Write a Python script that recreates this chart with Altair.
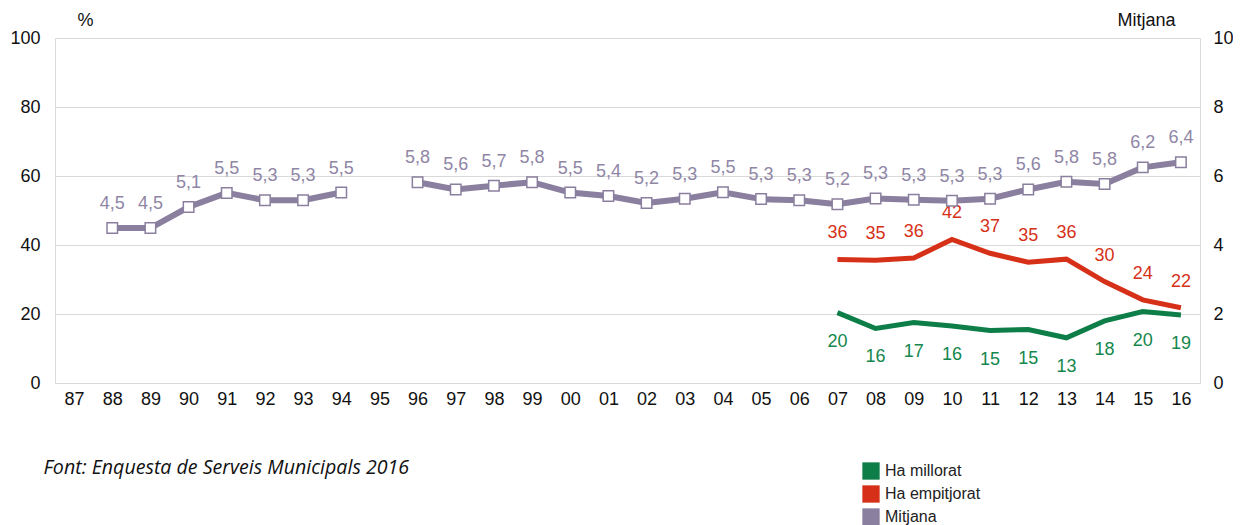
import altair as alt
import pandas as pd

years = ["87","88","89","90","91","92","93","94","95","96","97","98","99","00","01","02","03","04","05","06","07","08","09","10","11","12","13","14","15","16"]

mitjana = [None,4.49,4.49,5.10,5.51,5.30,5.30,5.52,None,5.82,5.61,5.72,5.82,5.52,5.42,5.22,5.34,5.53,5.33,5.30,5.18,5.35,5.31,5.28,5.34,5.61,5.83,5.77,6.25,6.40]
mitjana_lbl = [None,"4,5","4,5","5,1","5,5","5,3","5,3","5,5",None,"5,8","5,6","5,7","5,8","5,5","5,4","5,2","5,3","5,5","5,3","5,3","5,2","5,3","5,3","5,3","5,3","5,6","5,8","5,8","6,2","6,4"]

surv_years = ["07","08","09","10","11","12","13","14","15","16"]
empitjorat = [35.8,35.6,36.2,41.6,37.6,35.0,35.9,29.4,24.1,21.8]
empitjorat_lbl = ["36","35","36","42","37","35","36","30","24","22"]
millorat = [20.4,15.8,17.5,16.5,15.2,15.5,13.1,18.0,20.7,19.7]
millorat_lbl = ["20","16","17","16","15","15","13","18","20","19"]

series_names = ["Ha millorat", "Ha empitjorat", "Mitjana"]
series_colors = ["#0E7E49", "#D63118", "#8A7F9E"]
label_colors = {"Ha millorat": "#13874D", "Ha empitjorat": "#D63118", "Mitjana": "#8F86A6"}

rows = []
seg = 0
for y, v, l in zip(years, mitjana, mitjana_lbl):
    if v is None:
        seg += 1
        continue
    rows.append({"year": y, "value": v, "label": l, "seg": seg, "series": "Mitjana"})
dm = pd.DataFrame(rows)

rows2 = []
for y, v, l in zip(surv_years, empitjorat, empitjorat_lbl):
    rows2.append({"year": y, "value": v, "label": l, "series": "Ha empitjorat"})
for y, v, l in zip(surv_years, millorat, millorat_lbl):
    rows2.append({"year": y, "value": v, "label": l, "series": "Ha millorat"})
dp = pd.DataFrame(rows2)
de = dp[dp.series == "Ha empitjorat"]
dmil = dp[dp.series == "Ha millorat"]

FONT = "Liberation Sans"
FS = 18

xenc = alt.X("year:O", sort=years, scale=alt.Scale(domain=years, type="point", padding=0.5),
             axis=alt.Axis(title="Font: Enquesta de Serveis Municipals 2016",
                           titleX=-12, titleY=84, titleAlign="left", titleBaseline="middle",
                           titleAnchor="start", titleFont="Open Sans", titleFontSize=19.6,
                           titleFontStyle="italic", titleFontWeight="normal", titleColor="#111",
                           labelAngle=0, ticks=False, domainColor="#d9d9d9",
                           labelFontSize=FS, labelColor="#111", labelFont=FONT, labelPadding=7,
                           grid=False))

yleft = alt.Y("value:Q", scale=alt.Scale(domain=[0, 100]),
              axis=alt.Axis(title="%", titleAngle=0, titleX=30, titleY=-18, titleFontSize=FS,
                            titleFontWeight="normal", titleFont=FONT, titleColor="#111",
                            titleAlign="center", titleBaseline="middle",
                            values=[0,20,40,60,80,100], ticks=False, domainColor="#d9d9d9",
                            gridColor="#d9d9d9", labelFontSize=FS, labelFont=FONT,
                            labelColor="#111", labelPadding=15))

yright = alt.Y("value:Q", scale=alt.Scale(domain=[0, 10]),
               axis=alt.Axis(orient="right", title="Mitjana", titleAngle=0, titleX=-54, titleY=-18,
                             titleFontSize=FS, titleFontWeight="normal", titleFont=FONT,
                             titleColor="#111", titleAlign="center", titleBaseline="middle",
                             values=[0,2,4,6,8,10], ticks=False, domainColor="#d9d9d9", grid=False,
                             labelFontSize=FS, labelFont=FONT, labelColor="#111", labelPadding=13))

color = alt.Color("series:N", scale=alt.Scale(domain=series_names, range=series_colors),
                  legend=alt.Legend(title=None, orient="none", legendX=807, legendY=424,
                                    padding=0, symbolType="square", symbolSize=300,
                                    symbolStrokeWidth=0, labelFontSize=16, labelFont=FONT,
                                    labelColor="#222", rowPadding=5, labelOffset=5))

# legend carrier (invisible points)
legend_layer = alt.Chart(dp).mark_point(shape="square", filled=True, size=0, opacity=1).encode(
    x=xenc, y=yleft, color=color)

emp_line = alt.Chart(de).mark_line(strokeWidth=5, color=series_colors[1]).encode(x=xenc, y=yleft)
mil_line = alt.Chart(dmil).mark_line(strokeWidth=5, color=series_colors[0]).encode(x=xenc, y=yleft)
emp_txt = alt.Chart(de).mark_text(dy=-26, fontSize=FS, font=FONT,
                                  color=label_colors["Ha empitjorat"]).encode(x=xenc, y=yleft, text="label:N")
mil_txt = alt.Chart(dmil).mark_text(dy=29, fontSize=FS, font=FONT,
                                    color=label_colors["Ha millorat"]).encode(x=xenc, y=yleft, text="label:N")

left = alt.layer(legend_layer, emp_line, mil_line, emp_txt, mil_txt)

m_line = alt.Chart(dm).mark_line(strokeWidth=6, color=series_colors[2]).encode(x=xenc, y=yright, detail="seg:N")
m_pts = alt.Chart(dm).mark_point(shape="square", size=110, filled=True, fill="white",
                                 stroke=series_colors[2], strokeWidth=1.5, opacity=1).encode(
    x=xenc, y=yright)
m_txt = alt.Chart(dm).mark_text(dy=-24, fontSize=FS, font=FONT, color=label_colors["Mitjana"]).encode(
    x=xenc, y=yright, text="label:N")

right = alt.layer(m_line, m_pts, m_txt)

chart = alt.layer(left, right).resolve_scale(y="independent").properties(
    width=1145, height=345,
    autosize=alt.AutoSizeParams(type="none"),
    padding={"left": 47, "top": 30, "right": 33, "bottom": 150},
).configure(background="white").configure_view(stroke=None)

chart.save("out.html", embed_options={"renderer": "svg", "actions": False})
